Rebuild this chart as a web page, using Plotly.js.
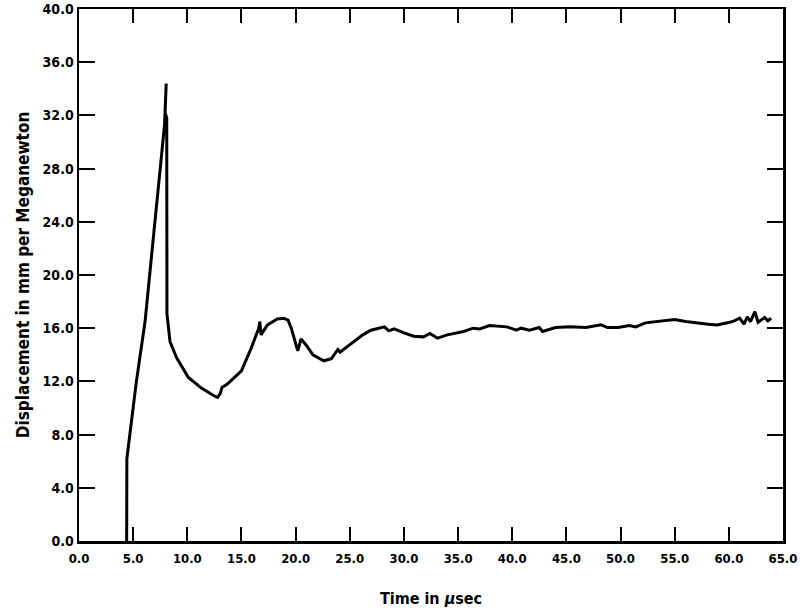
<!DOCTYPE html>
<html>
<head>
<meta charset="utf-8">
<script src="https://cdn.plot.ly/plotly-3.0.1.min.js"></script>
<style>
  body { margin: 0; background: #fff; }
  #chart { width: 800px; height: 613px; }
</style>
</head>
<body>
<div id="chart"></div>
<script>
// displacement response
const timeUs = [
  4.4, 4.42, 5.3, 6.1, 6.45, 7.9, 8.05, 7.95, 8.1, 8.12,
  8.4, 9.0, 10.1, 11.3, 12.5, 12.8, 13.05, 13.2, 13.7, 15.0,
  15.9, 16.6, 16.7, 16.8, 17.4, 18.3, 18.9, 19.3, 19.6, 20.2,
  20.5, 21.0, 21.6, 22.6, 23.3, 23.9, 24.1, 25.4, 26.2, 26.95,
  28.2, 28.6, 29.1, 30.0, 30.9, 31.8, 32.4, 33.1, 34.0, 35.5,
  36.4, 37.0, 37.9, 39.5, 40.4, 40.8, 41.6, 42.5, 42.8, 44.0,
  45.3, 46.8, 48.2, 48.8, 49.8, 50.8, 51.4, 52.3, 53.8, 55.0,
  56.0, 56.9, 58.1, 58.9, 59.3, 60.1, 60.5, 61.0, 61.4, 61.7,
  62.0, 62.4, 62.7, 63.3, 63.6, 63.9
];
const displacement = [
  0.0, 6.2, 12.0, 16.5, 19.4, 31.3, 34.4, 32.2, 31.8, 17.1,
  15.0, 13.8, 12.3, 11.5, 10.9, 10.8, 11.1, 11.55, 11.8, 12.8,
  14.5, 16.0, 16.5, 15.5, 16.25, 16.7, 16.75, 16.6, 16.0, 14.3,
  15.2, 14.7, 14.0, 13.55, 13.7, 14.4, 14.2, 15.0, 15.5, 15.85,
  16.1, 15.8, 15.95, 15.65, 15.4, 15.35, 15.6, 15.25, 15.5, 15.75,
  16.0, 15.95, 16.2, 16.1, 15.85, 16.0, 15.85, 16.05, 15.75, 16.05,
  16.1, 16.05, 16.25, 16.05, 16.05, 16.2, 16.1, 16.4, 16.55, 16.65,
  16.5, 16.4, 16.3, 16.25, 16.3, 16.45, 16.55, 16.75, 16.3, 16.85,
  16.5, 17.25, 16.45, 16.8, 16.55, 16.75
];

const xTicks = [0, 5, 10, 15, 20, 25, 30, 35, 40, 45, 50, 55, 60, 65];
const yTicks = [0, 4, 8, 12, 16, 20, 24, 28, 32, 36, 40];

const labelFont = "'DejaVu Sans Condensed', 'Liberation Sans', Arial, sans-serif";

const data = [
  {
    x: timeUs,
    y: displacement,
    mode: "lines",
    line: { color: "#000", width: 3 },
    hoverinfo: "skip",
  },
];

const layout = {
  width: 800,
  height: 613,
  margin: { l: 79, r: 17, t: 9, b: 72 },
  paper_bgcolor: "#fff",
  plot_bgcolor: "#fff",
  showlegend: false,
  font: { family: labelFont, color: "#000" },
  xaxis: {
    range: [0, 65],
    tickvals: xTicks,
    ticktext: xTicks.map((v) => v.toFixed(1)),
    ticks: "inside",
    ticklen: 14,
    tickwidth: 2,
    tickcolor: "#000",
    ticklabeloverflow: "allow",
    ticklabelstandoff: 4,
    showline: true,
    linewidth: 2.5,
    linecolor: "#000",
    mirror: "ticks",
    showgrid: false,
    zeroline: false,
    tickfont: { family: labelFont, size: 13, weight: 700, color: "#000" },
    title: {
      text: "Time in <i>μ</i>sec",
      font: { family: labelFont, size: 16, weight: 700, color: "#000" },
      standoff: 28,
    },
  },
  yaxis: {
    range: [0, 40],
    tickvals: yTicks,
    ticktext: yTicks.map((v) => v.toFixed(1)),
    ticks: "inside",
    ticklen: 16,
    tickwidth: 2,
    tickcolor: "#000",
    ticklabeloverflow: "allow",
    showline: true,
    linewidth: 2.5,
    linecolor: "#000",
    mirror: "ticks",
    showgrid: false,
    zeroline: false,
    tickfont: { family: labelFont, size: 14, weight: 700, color: "#000" },
    title: {
      text: "Displacement in mm per Meganewton",
      font: { family: labelFont, size: 17, weight: 700, color: "#000" },
      standoff: 9,
    },
  },
};

Plotly.newPlot("chart", data, layout, { displayModeBar: false, staticPlot: true });
</script>
</body>
</html>
